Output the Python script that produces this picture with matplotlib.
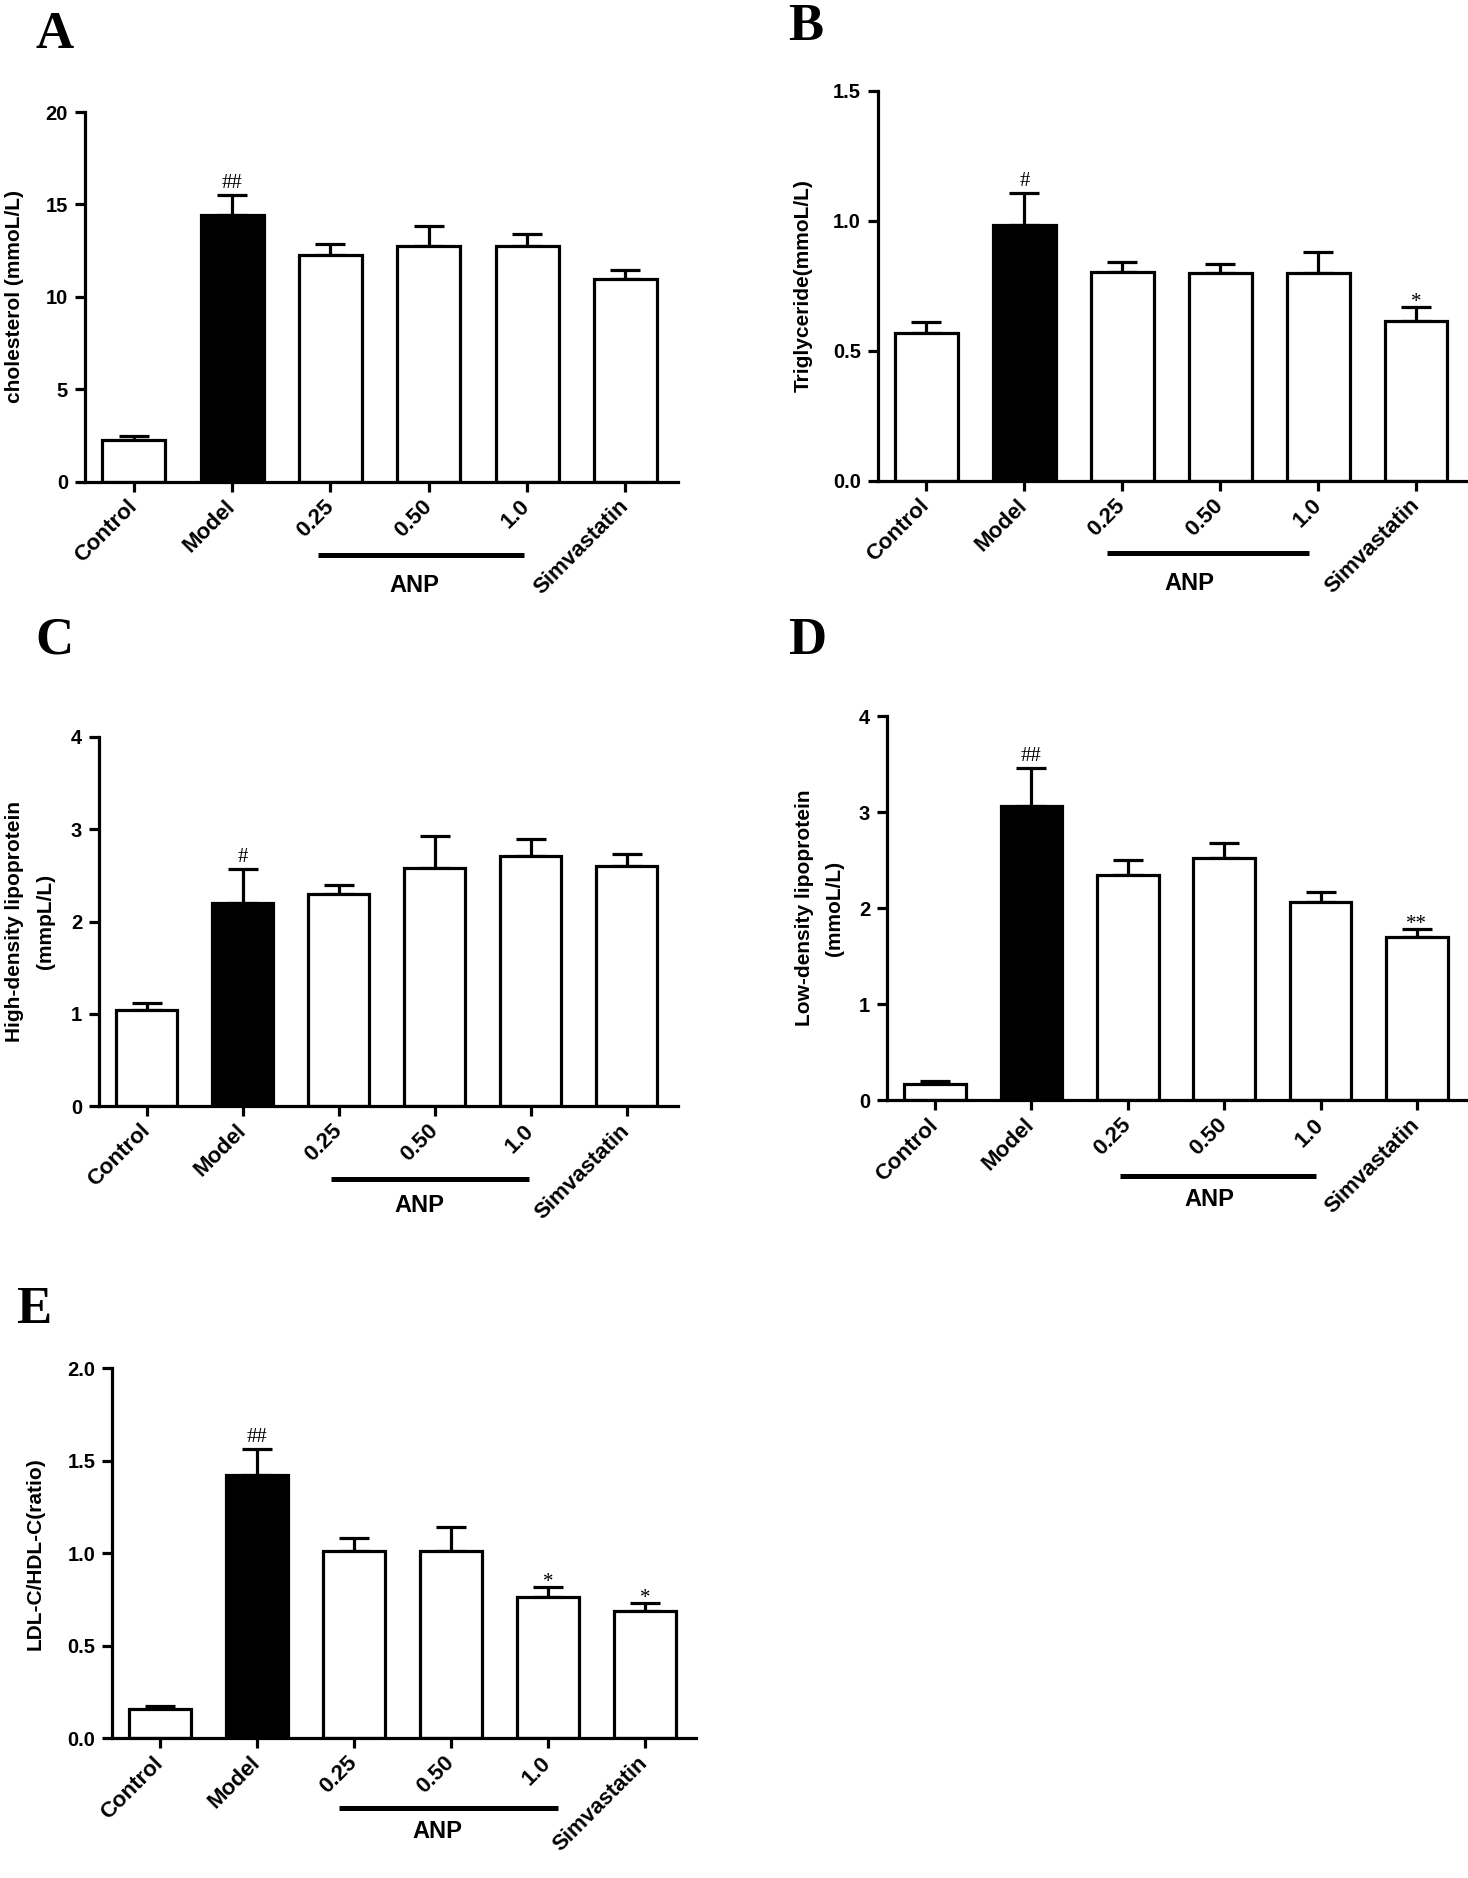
import numpy as np
import matplotlib.pyplot as plt
from matplotlib.transforms import offset_copy, blended_transform_factory

W, H = 1468, 1878

groups = ["Control", "Model", "0.25", "0.50", "1.0", "Simvastatin"]
bar_colors = ["white", "black", "white", "white", "white", "white"]

# A - total cholesterol
chol_mean = [2.24, 14.41, 12.26, 12.73, 12.77, 10.95]
chol_err = [0.21, 1.12, 0.62, 1.08, 0.61, 0.49]
chol_marks = ["", "##", "", "", "", ""]

# B - triglyceride
tg_mean = [0.567, 0.983, 0.802, 0.799, 0.799, 0.613]
tg_err = [0.043, 0.124, 0.039, 0.036, 0.079, 0.056]
tg_marks = ["", "#", "", "", "", "*"]

# C - HDL
hdl_mean = [1.04, 2.20, 2.30, 2.585, 2.71, 2.60]
hdl_err = [0.08, 0.37, 0.10, 0.34, 0.19, 0.13]
hdl_marks = ["", "#", "", "", "", ""]

# D - LDL
ldl_mean = [0.17, 3.06, 2.35, 2.52, 2.06, 1.70]
ldl_err = [0.03, 0.40, 0.15, 0.16, 0.11, 0.08]
ldl_marks = ["", "##", "", "", "", "**"]

# E - LDL/HDL ratio
ratio_mean = [0.159, 1.425, 1.013, 1.015, 0.762, 0.691]
ratio_err = [0.017, 0.142, 0.069, 0.129, 0.058, 0.039]
ratio_marks = ["", "##", "", "", "*", "*"]

plt.rcParams["font.family"] = ["Liberation Sans", "DejaVu Sans"]
plt.rcParams["font.weight"] = "bold"
plt.rcParams["axes.labelweight"] = "bold"

fig = plt.figure(figsize=(W / 100, H / 100), dpi=100)
LW = 2.3


def px_axes(l, t, r, b):
    return fig.add_axes([l / W, 1 - b / H, (r - l) / W, (b - t) / H])


def draw(ax, mean, err, marks, ylim, yticks, yfmt, ylabel, label_x, anp):
    x = np.arange(len(groups))
    ax.bar(x, mean, width=0.64, color=bar_colors, edgecolor="black",
           linewidth=LW, zorder=2)
    ax.errorbar(x, mean, yerr=[np.zeros(len(mean)), err], fmt="none",
                ecolor="black", elinewidth=LW, capsize=11, capthick=LW,
                zorder=1)
    for xi, m, e, s in zip(x, mean, err, marks):
        if s:
            dy = 5 if "#" in s else 0
            ax.annotate(s, (xi, m + e), xytext=(0, dy), textcoords="offset points",
                        ha="center", va="baseline", fontsize=15,
                        family="Liberation Serif", fontweight="normal")
    ax.set_xlim(-0.5, 5.53)
    ax.set_ylim(*ylim)
    ax.set_yticks(yticks)
    ax.set_yticklabels([yfmt.format(v) for v in yticks], fontsize=14.5)
    ax.set_xticks(x)
    ax.set_xticklabels(groups, rotation=45, ha="right", va="center",
                       rotation_mode="anchor", fontsize=16)
    ax.spines[["top", "right"]].set_visible(False)
    for s in ["left", "bottom"]:
        ax.spines[s].set_linewidth(LW)
    ax.tick_params(axis="y", width=LW, length=7, pad=5)
    ax.tick_params(axis="x", width=LW, length=7.5, pad=8)
    ax.set_ylabel(ylabel, fontsize=15, fontweight="bold", linespacing=1.75,
                  va="center", ha="center")
    ax.yaxis.set_label_coords(label_x, 0.5)
    trans = blended_transform_factory(ax.transData, ax.transAxes)
    x0, x1, xt, dl, dt = anp
    ax.plot([x0, x1], [0, 0], color="black", lw=3.6, solid_capstyle="butt",
            clip_on=False, transform=offset_copy(trans, fig=fig, y=-dl, units="dots"))
    ax.text(xt, 0, "ANP", ha="center", va="center", fontsize=17,
            transform=offset_copy(trans, fig=fig, y=-dt, units="dots"))


axA = px_axes(84.7, 112, 677.5, 481.7)
draw(axA, chol_mean, chol_err, chol_marks, (0, 20), [0, 5, 10, 15, 20], "{:.0f}",
     "cholesterol (mmoL/L)", -0.119, (1.87, 3.97, 2.85, 73, 104))

axB = px_axes(877.5, 90.5, 1468, 481)
draw(axB, tg_mean, tg_err, tg_marks, (0, 1.5), [0, 0.5, 1.0, 1.5], "{:.1f}",
     "Triglyceride(mmoL/L)", -0.126, (1.84, 3.91, 2.68, 72, 103))

axC = px_axes(98.8, 737, 677.5, 1106.3)
draw(axC, hdl_mean, hdl_err, hdl_marks, (0, 4), [0, 1, 2, 3, 4], "{:.0f}",
     "High-density lipoprotein\n(mmpL/L)", -0.119, (1.92, 3.98, 2.84, 73, 99))

axD = px_axes(886.9, 716, 1468, 1100.4)
draw(axD, ldl_mean, ldl_err, ldl_marks, (0, 4), [0, 1, 2, 3, 4], "{:.0f}",
     "Low-density lipoprotein\n(mmoL/L)", -0.116, (1.92, 3.95, 2.85, 76, 99))

axE = px_axes(112, 1368.4, 696.3, 1738.4)
draw(axE, ratio_mean, ratio_err, ratio_marks, (0, 2), [0, 0.5, 1.0, 1.5, 2.0], "{:.1f}",
     "LDL-C/HDL-C(ratio)", -0.131, (1.84, 4.10, 2.86, 70, 93))

for letter, lx, ly in [("A", 35, 48), ("B", 788, 40), ("C", 35, 654),
                       ("D", 788, 654), ("E", 16, 1323)]:
    fig.text(lx / W, 1 - ly / H, letter, family="Liberation Serif",
             fontweight="bold", fontsize=38, ha="left", va="baseline")

fig.savefig("out.png", dpi=100, facecolor="white")
